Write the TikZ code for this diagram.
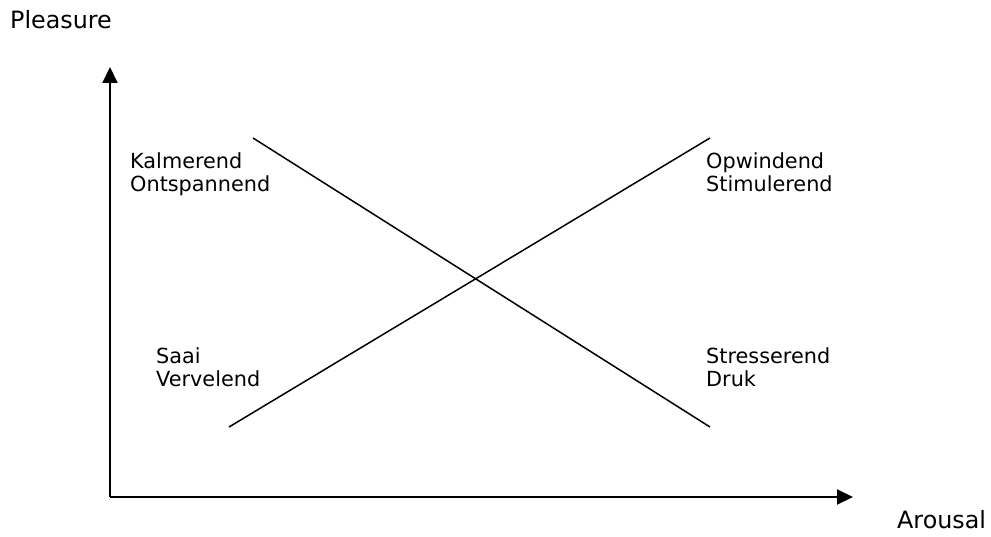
\documentclass[tikz,border=0pt]{standalone}
\usepackage{fontspec}
\setmainfont{DejaVu Sans}
\usetikzlibrary{arrows.meta}
\tikzset{
  axis/.style={line width=2pt, -{Triangle[length=16pt,width=15pt]}},
  trend/.style={line width=1.5pt},
  lbl/.style={inner sep=0pt, anchor=base west, align=left, font=\fontsize{20.8}{23.5}\selectfont},
  axislbl/.style={inner sep=0pt, anchor=base west, font=\fontsize{23.8}{27}\selectfont}
}
\begin{document}
\begin{tikzpicture}[x=1pt,y=-1pt]
  \useasboundingbox (0,0) rectangle (991,537);
  % axes
  \coordinate (origin) at (110,497);
  \coordinate (ytip) at (110,67);
  \coordinate (xtip) at (853,497);
  \draw[axis] (origin) -- (ytip);
  \draw[axis] (origin) -- (xtip);
  \node[axislbl] (pleasure) at (10,29) {Pleasure};
  \node[axislbl] (arousal) at (897,528) {Arousal};
  % the two diagonal trend lines
  \coordinate (a1) at (253,138);
  \coordinate (a2) at (710,427);
  \coordinate (b1) at (229,427);
  \coordinate (b2) at (710,138);
  \draw[trend] (a1) -- (a2);
  \draw[trend] (b1) -- (b2);
  % quadrant labels
  \node[lbl] (kalm) at (130,169) {Kalmerend};
  \node[lbl] (onts) at (130,192) {Ontspannend};
  \node[lbl] (opw) at (706,169) {Opwindend};
  \node[lbl] (stim) at (706,192) {Stimulerend};
  \node[lbl] (saai) at (156,363) {Saai};
  \node[lbl] (verv) at (156,387) {Vervelend};
  \node[lbl] (stress) at (706,363) {Stresserend};
  \node[lbl] (druk) at (706,387) {Druk};
\end{tikzpicture}
\end{document}
